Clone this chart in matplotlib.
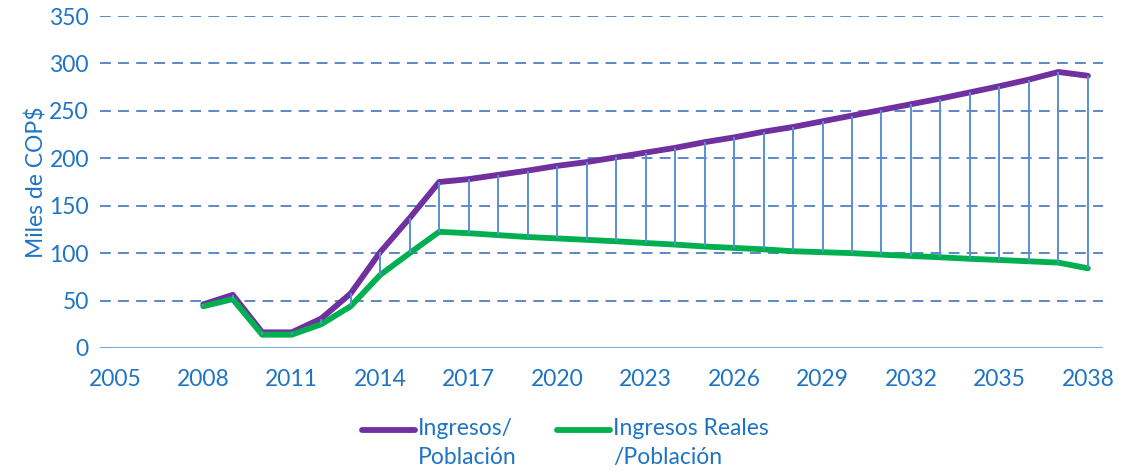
import numpy as np
import matplotlib
matplotlib.use("Agg")
import matplotlib.pyplot as plt
from matplotlib.lines import Line2D

plt.rcParams['font.family'] = ['Lato', 'DejaVu Sans']

# --- data ---
years = list(range(2008, 2039))
ingresos_pob = [46, 56, 16.5, 16.5, 31, 57.5, 101, 137, 175, 178, 182.5, 187, 192,
                196, 201, 206, 211, 217, 222, 228, 233, 239, 245, 251, 257,
                263, 269.5, 276, 283, 291, 287]
ingresos_reales_pob = [44, 51.5, 14, 14, 25, 44, 77, 100, 122.5, 121, 119, 117, 115.5,
                       114, 112.5, 110.7, 109, 107, 105.5, 104, 102, 101, 100, 98.4, 97,
                       95.6, 94, 92.8, 91.4, 90, 84]
tick_years = list(range(2005, 2039, 3))
y_ticks = [0, 50, 100, 150, 200, 250, 300, 350]
labels = ["Ingresos/\nPoblación", "Ingresos Reales\n/Población"]

text_color = '#1F74C4'
purple = '#7030A0'
green = '#00B050'

fig = plt.figure(figsize=(11.24, 4.75), dpi=100)
ax = fig.add_axes([0.089, 0.2674, 0.892, 0.6989])

l1, = ax.plot(years, ingresos_pob, color=purple, lw=4.2, solid_capstyle='round', zorder=3)
l2, = ax.plot(years, ingresos_reales_pob, color=green, lw=4.2, solid_capstyle='round', zorder=3)
# high-low lines
ax.vlines(years, ingresos_reales_pob, ingresos_pob, color='#5B8ED6', lw=1.4, zorder=4)

ax.set_xlim(2004.5, 2038.5)
ax.set_ylim(0, 350)
ax.set_xticks(tick_years)
ax.set_yticks(y_ticks)
for y in y_ticks[1:]:
    ax.axhline(y, color='#4F7FC0', lw=1.3, ls=(0, (6, 4)), zorder=1)
ax.axhline(0, color='#7DA7E0', lw=1.5, zorder=1)

for s in ax.spines.values():
    s.set_visible(False)
ax.tick_params(length=0, labelsize=16.5, labelcolor=text_color)
ax.tick_params(axis='x', pad=15)
ax.tick_params(axis='y', pad=8)
ax.set_ylabel("Miles de COP$", fontsize=16.5, color=text_color, labelpad=1)

# legend drawn by hand so the key sits on the first text line
W, H = 1124, 475
for line, lab, x0 in [(l1, labels[0], 362), (l2, labels[1], 557)]:
    fig.add_artist(Line2D([x0 / W, (x0 + 53) / W], [1 - 430 / H] * 2,
                          color=line.get_color(), lw=4.2, solid_capstyle='round'))
    fig.text((x0 + 56) / W, 1 - 418 / H, lab, color=text_color, fontsize=16.5,
             va='top', ha='left', linespacing=1.45)

fig.savefig("out.png", dpi=100)
